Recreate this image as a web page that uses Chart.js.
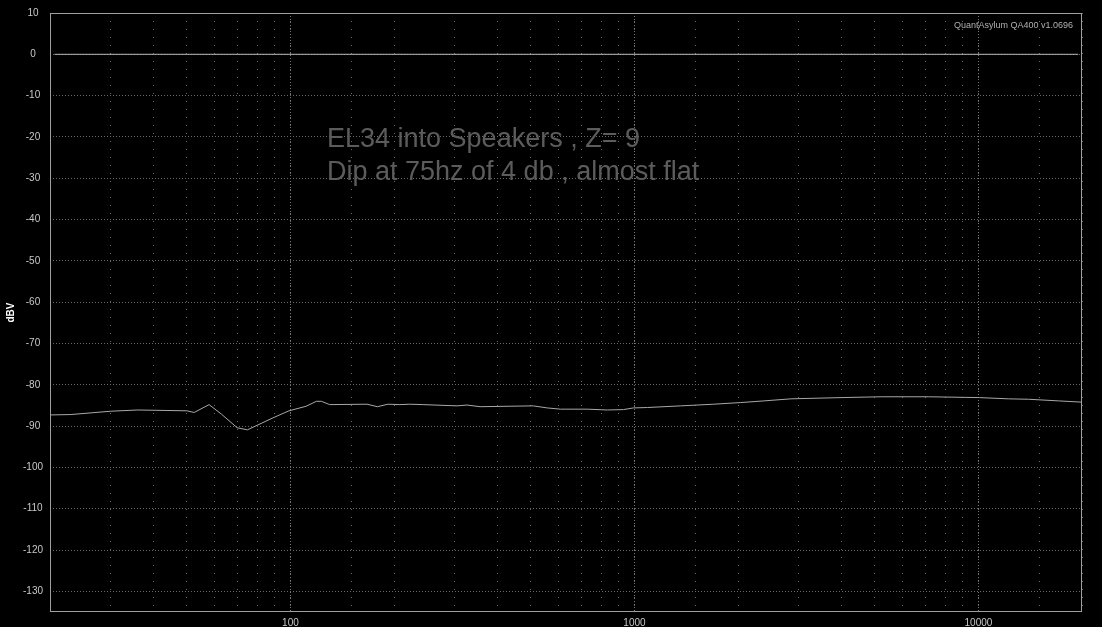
<!DOCTYPE html>
<html>
<head>
<meta charset="utf-8">
<script src="https://cdn.jsdelivr.net/npm/chart.js@4"></script>
<style>
  html, body { margin: 0; padding: 0; background: #000; }
  #wrap { width: 1102px; height: 627px; }
</style>
</head>
<body>
<div id="wrap"><canvas id="fr"></canvas></div>
<script>
// response of the right channel
const freqs = [20, 23, 30, 36, 50, 52.5, 58, 63, 70, 75, 89, 99, 111, 119, 123, 130,
  167, 179, 192, 208, 222, 243, 305, 326, 356, 508, 558, 609, 729, 834, 929, 993,
  1091, 1362, 1699, 2037, 2378, 2850, 3987, 5215, 7148, 10067, 12233, 13987, 17110, 20000];
const levels = [-87.3, -87.2, -86.4, -86.1, -86.3, -86.7, -84.8, -87.1, -90.4, -90.9, -88.0, -86.3, -85.2, -84.0, -84.0, -84.8,
  -84.7, -85.3, -84.7, -84.8, -84.7, -84.8, -85.1, -84.9, -85.3, -85.1, -85.6, -85.9, -85.9, -86.1, -86.0, -85.6,
  -85.5, -85.1, -84.7, -84.3, -83.9, -83.4, -83.1, -82.9, -82.9, -83.1, -83.4, -83.5, -83.9, -84.2];

// other channel sits flat at 0 dBV
const refFreqs = [20.6, 19500];
const refLevels = [0, 0];

const yTicks = [10, 0, -10, -20, -30, -40, -50, -60, -70, -80, -90, -100, -110, -120, -130];
const decadeTicks = [100, 1000, 10000];

const noteLines = ['EL34 into Speakers , Z= 9', 'Dip at 75hz of 4 db , almost flat'];
const watermark = 'QuantAsylum QA400 v1.0696';

const FONT = '"Liberation Sans", Arial, sans-serif';

const toPoints = (xs, ys) => xs.map((x, i) => ({ x: x, y: ys[i] }));

const framePlugin = {
    id: 'frame',
    afterDraw(chart) {
        const { ctx, chartArea: a } = chart;
        ctx.save();
        ctx.strokeStyle = '#a0a0a0';
        ctx.lineWidth = 1;
        ctx.strokeRect(a.left + 0.5, a.top + 0.5, a.right - a.left - 1, a.bottom - a.top - 1);

        ctx.fillStyle = '#b0b0b0';
        ctx.font = '9px ' + FONT;
        ctx.textAlign = 'right';
        ctx.textBaseline = 'alphabetic';
        ctx.fillText(watermark, a.right - 9, a.top + 15);

        ctx.fillStyle = '#5c5c5c';
        ctx.font = '27px ' + FONT;
        ctx.textAlign = 'left';
        noteLines.forEach((t, i) => ctx.fillText(t, 327, 147 + i * 33));
        ctx.restore();
    }
};

new Chart(document.getElementById('fr').getContext('2d'), {
    type: 'line',
    data: {
        datasets: [{
            label: 'ref',
            data: toPoints(refFreqs, refLevels),
            borderColor: '#b8b8b8',
            borderWidth: 1,
            pointRadius: 0,
            tension: 0
        }, {
            label: 'response',
            data: toPoints(freqs, levels),
            borderColor: '#a8a8a8',
            borderWidth: 1,
            pointRadius: 0,
            tension: 0
        }]
    },
    options: {
        responsive: true,
        maintainAspectRatio: false,
        animation: false,
        layout: { padding: { left: 0, top: 11, right: 20, bottom: 0 } },
        plugins: {
            legend: { display: false },
            tooltip: { enabled: false }
        },
        scales: {
            x: {
                type: 'logarithmic',
                position: 'bottom',
                min: 20,
                max: 20000,
                afterFit(scale) { scale.height = 15; },
                grid: { color: '#666666', drawTicks: false },
                border: { display: false, dash: [1, 7] },
                ticks: {
                    autoSkip: false,
                    maxRotation: 0,
                    padding: 5,
                    color: '#c8c8c8',
                    font: { family: FONT, size: 10 },
                    callback: (v) => decadeTicks.includes(v) ? String(v) : ''
                }
            },
            xMajor: {
                type: 'logarithmic',
                position: 'top',
                min: 20,
                max: 20000,
                afterBuildTicks(scale) { scale.ticks = decadeTicks.map(v => ({ value: v })); },
                afterFit(scale) { scale.height = 0; },
                grid: { color: '#7a7a7a', drawTicks: false },
                border: { display: false, dash: [1, 2] },
                ticks: { display: false }
            },
            y: {
                type: 'linear',
                min: -135,
                max: 10,
                afterBuildTicks(scale) { scale.ticks = yTicks.map(v => ({ value: v })); },
                afterFit(scale) { scale.width = 50; },
                grid: { color: '#6a6a6a', drawTicks: false },
                border: { display: false, dash: [1, 2] },
                ticks: {
                    crossAlign: 'center',
                    padding: 7,
                    color: '#c8c8c8',
                    font: { family: FONT, size: 10 }
                },
                title: {
                    display: true,
                    text: 'dBV',
                    color: '#ffffff',
                    padding: { top: 5, bottom: 0 },
                    font: { family: FONT, size: 10, weight: 'bold' }
                }
            }
        }
    },
    plugins: [framePlugin]
});
</script>
</body>
</html>
